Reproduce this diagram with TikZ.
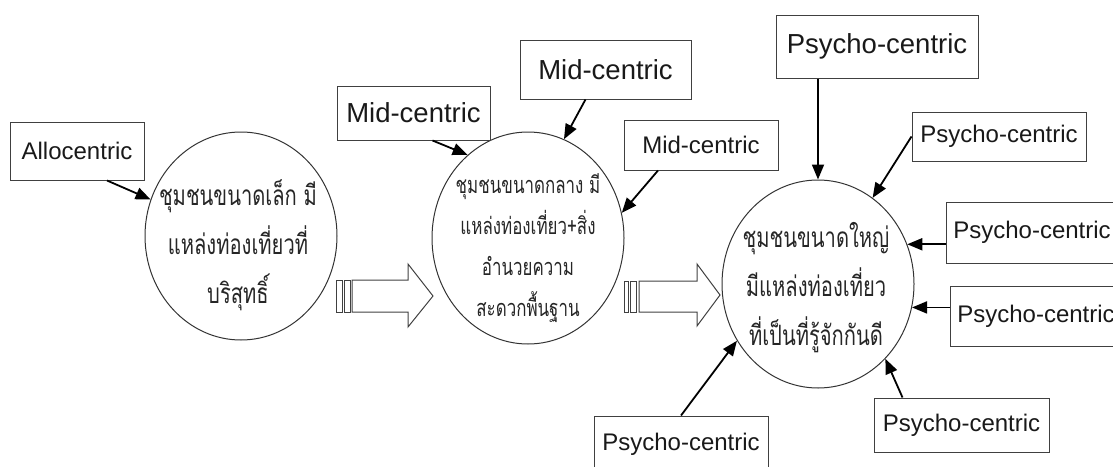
\documentclass[tikz,border=0pt]{standalone}
\usepackage{fontspec}
\setmainfont{Liberation Sans}
\newfontfamily\thaifont[Script=Thai,FakeStretch=0.72]{Loma}
\usetikzlibrary{shapes.geometric,arrows.meta}

\begin{document}
\begin{tikzpicture}[x=1pt,y=-1pt,
        box/.style={draw=black!75,line width=1pt,inner sep=0pt,text=black!90,font=\fontsize{24}{28}\selectfont},
        bigbox/.style={box,font=\fontsize{27.5}{32}\selectfont},
        town/.style={draw=black!80,ellipse,line width=1pt,minimum width=192,minimum height=208,inner sep=0pt},
        thai/.style={align=center,text=black!85,font=\thaifont\fontsize{28}{#1}\selectfont},
        push/.style={line width=1.8pt,-{Triangle[length=15pt,width=12pt]}},
        fat/.style={draw=black!75,line width=1pt}]
    \useasboundingbox (0,0) rectangle (1113,466);

    % the three communities
    \node[town] (c1) at (241,236) {};
    \node[town,minimum height=212] (c2) at (528,238) {};
    \node[town] (c3) at (818,284) {};
    \node[thai=49] (t1) at (238,245) {ชุมชนขนาดเล็ก มี\\แหล่งท่องเที่ยวที่\\บริสุทธิ์};
    \node[thai=41,font=\thaifont\fontsize{23.5}{41}\selectfont] (t2) at (528,248) {ชุมชนขนาดกลาง มี\\แหล่งท่องเที่ยว+สิ่ง\\อำนวยความ\\สะดวกพื้นฐาน};
    \node[thai=49] (t3) at (816,288) {ชุมชนขนาดใหญ่\\มีแหล่งท่องเที่ยว\\ที่เป็นที่รู้จักกันดี};

    % tourist types
    \node[box,minimum width=134,minimum height=58] (al) at (77,151) {Allocentric};
    \node[bigbox,minimum width=153,minimum height=54] (mc1) at (413.5,113) {Mid-centric};
    \node[bigbox,minimum width=171,minimum height=59] (mc2) at (605.5,69.5) {Mid-centric};
    \node[box,minimum width=154,minimum height=50] (mc3) at (701,145) {Mid-centric};
    \node[bigbox,minimum width=202,minimum height=63] (ps1) at (877,46.5) {Psycho-centric};
    \node[box,minimum width=174,minimum height=49] (ps2) at (999,136.5) {Psycho-centric};
    \node[box,minimum width=172,minimum height=61] (ps3) at (1032,232.5) {Psycho-centric};
    \node[box,minimum width=172,minimum height=60] (ps4) at (1036,316) {Psycho-centric};
    \node[box,minimum width=175,minimum height=54] (ps5) at (961.5,425) {Psycho-centric};
    \node[box,minimum width=174,minimum height=56] (ps6) at (681,444) {Psycho-centric};

    % arrows into the circles
    \draw[push] ([xshift=30pt]al.south) -- (c1.158);
    \draw[push] ([xshift=19pt]mc1.south) -- (c2.126);
    \draw[push] ([xshift=-20pt]mc2.south) -- (c2.70);
    \draw[push] ([xshift=-43pt]mc3.south) -- (c2.15);
    \draw[push] (ps1.south -| c3.north) -- (c3.north);
    \draw[push] (ps2.west) -- (c3);
    \draw[push] (ps3.west |- c3.24) -- (c3.24);
    \draw[push] (ps4.west |- c3.-14) -- (c3.-14);
    \draw[push] ([xshift=-59pt]ps5.north) -- (c3.-48);
    \draw[push] (ps6.north) -- (c3.-145);

    % big hollow arrows between the communities
    \draw[fat] (336,280) rectangle (342,312) (344,280) rectangle (350,312);
    \draw[fat] (352,280) -- (408,280) -- (408,264) -- (433,296) -- (408,327) -- (408,312) -- (352,312) -- cycle;
    \draw[fat] (624,281) rectangle (628,312) (630,281) rectangle (636,312);
    \draw[fat] (639,281) -- (697,281) -- (697,264) -- (720,295) -- (697,326) -- (697,312) -- (639,312) -- cycle;
\end{tikzpicture}
\end{document}
